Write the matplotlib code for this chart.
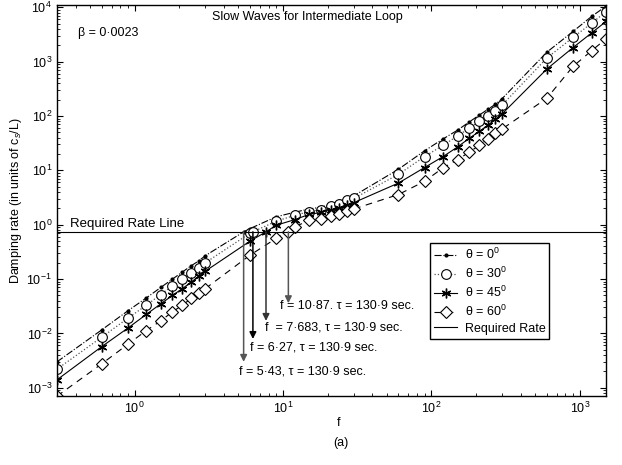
import matplotlib
matplotlib.use("Agg")
import matplotlib.pyplot as plt

plt.rcParams['font.family'] = ['Liberation Sans', 'DejaVu Sans']
plt.rcParams['mathtext.fontset'] = 'custom'
plt.rcParams['mathtext.rm'] = 'Liberation Sans'
plt.rcParams['mathtext.it'] = 'Liberation Sans:italic'
plt.rcParams['font.size'] = 9

# frequency grid (with each curve's crossing of the required rate)
f0 = [0.3, 0.6, 0.9, 1.2, 1.5, 1.8, 2.1, 2.4, 2.7, 3.0, 5.43, 6, 9, 12, 15, 18, 21, 24, 27, 30,
      60, 90, 120, 150, 180, 210, 240, 270, 300, 600, 900, 1200, 1500]
f30 = [0.3, 0.6, 0.9, 1.2, 1.5, 1.8, 2.1, 2.4, 2.7, 3.0, 6, 6.27, 9, 12, 15, 18, 21, 24, 27, 30,
       60, 90, 120, 150, 180, 210, 240, 270, 300, 600, 900, 1200, 1500]
f45 = [0.3, 0.6, 0.9, 1.2, 1.5, 1.8, 2.1, 2.4, 2.7, 3.0, 6, 7.683, 9, 12, 15, 18, 21, 24, 27, 30,
       60, 90, 120, 150, 180, 210, 240, 270, 300, 600, 900, 1200, 1500]
f60 = [0.3, 0.6, 0.9, 1.2, 1.5, 1.8, 2.1, 2.4, 2.7, 3.0, 6, 9, 10.87, 12, 15, 18, 21, 24, 27, 30,
       60, 90, 120, 150, 180, 210, 240, 270, 300, 600, 900, 1200, 1500]

rate0 = [3.0e-3, 0.0116, 0.026, 0.045, 0.07, 0.1, 0.135, 0.175, 0.215, 0.27, 0.74, 0.85, 1.4, 1.7,
         1.95, 2.1, 2.4, 2.7, 3.1, 3.4, 10.5, 23, 38, 55, 78, 104, 133, 165, 210, 1500, 3600, 6800, 10500]
rate30 = [2.2e-3, 8.5e-3, 0.019, 0.033, 0.052, 0.075, 0.1, 0.13, 0.16, 0.2, 0.7, 0.74, 1.16, 1.49,
          1.75, 1.9, 2.19, 2.45, 2.82, 3.05, 8.45, 18, 29, 43, 60, 80, 102, 126, 160, 1170, 2800, 5100, 8300]
rate45 = [1.4e-3, 5.7e-3, 0.0125, 0.0224, 0.035, 0.05, 0.067, 0.087, 0.113, 0.14, 0.5, 0.74, 0.98, 1.24,
          1.55, 1.68, 1.88, 2.07, 2.33, 2.55, 5.85, 11.3, 18, 27, 39, 52, 68, 87, 110, 735, 1820, 3380, 5500]
rate60 = [7e-4, 2.75e-3, 6.3e-3, 0.0113, 0.017, 0.025, 0.033, 0.044, 0.056, 0.067, 0.276, 0.56, 0.74, 0.91,
          1.21, 1.3, 1.43, 1.6, 1.79, 1.95, 3.6, 6.3, 11.2, 15.7, 21.7, 28.8, 38, 48, 58, 213, 820, 1590, 2630]

required_rate = 0.74
cross_f = [5.43, 6.27, 7.683, 10.87]
arrow_end = [3.0e-3, 7.9e-3, 0.017, 0.036]
arrow_color = ['#555555', 'black', '#333333', '#555555']
cross_labels = ['f = 5·43, τ = 130·9 sec.', 'f = 6·27, τ = 130·9 sec.',
                'f  = 7·683, τ = 130·9 sec.', 'f = 10·87. τ = 130·9 sec.']
label_pos = [(5.07, 1.96e-3), (6.0, 5.4e-3), (7.58, 0.0126), (9.55, 0.032)]

fig = plt.figure(figsize=(6.22, 4.65), dpi=100)
ax = fig.add_axes([0.0916, 0.148, 0.8826, 0.841])

ax.plot(f0, rate0, color='black', linestyle='-.', linewidth=0.8, marker='.', markersize=4,
        label=r'$\mathrm{\theta}$ = 0$^0$')
ax.plot(f30, rate30, color='#555555', linestyle=':', linewidth=0.9, marker='o', markersize=7,
        markerfacecolor='white', markeredgecolor='black', markeredgewidth=0.8,
        label=r'$\mathrm{\theta}$ = 30$^0$')
ax.plot(f45, rate45, color='black', linestyle='-', linewidth=0.8, marker=(6, 2, 0), markersize=7,
        markeredgewidth=1.0, label=r'$\mathrm{\theta}$ = 45$^0$')
ax.plot(f60, rate60, color='black', linestyle=(0, (6, 5)), linewidth=0.8, marker='D', markersize=6,
        markerfacecolor='white', markeredgecolor='black', markeredgewidth=0.8,
        label=r'$\mathrm{\theta}$ = 60$^0$')
ax.axhline(required_rate, color='black', linewidth=0.8, label='Required Rate')

for fc, ye, col, lab, pos in zip(cross_f, arrow_end, arrow_color, cross_labels, label_pos):
    ax.annotate('', xy=(fc, ye), xytext=(fc, required_rate),
                arrowprops=dict(arrowstyle='-|>', color=col, lw=1.1, mutation_scale=10,
                                shrinkA=0, shrinkB=0))
    ax.text(pos[0], pos[1], lab, fontsize=9, va='center', ha='left')

ax.set_xscale('log')
ax.set_yscale('log')
ax.set_xlim(0.3, 1500)
ax.set_ylim(7e-4, 1.1e4)
ax.tick_params(which='both', direction='in', top=True, right=True, labelsize=9)
ax.tick_params(which='major', length=4)
ax.tick_params(which='minor', length=2)
for s in ax.spines.values():
    s.set_linewidth(1.0)

ax.text(0.456, 0.969, 'Slow Waves for Intermediate Loop', transform=ax.transAxes,
        ha='center', va='center', fontsize=9)
ax.text(0.038, 0.928, 'β = 0·0023', transform=ax.transAxes, ha='left', va='center', fontsize=9)
ax.text(0.024, required_rate * 1.08, 'Required Rate Line', ha='left', va='bottom',
        transform=ax.get_yaxis_transform(), fontsize=9.5)

ax.set_ylabel('Damping rate (in units of c$_s$/L)', fontsize=9, labelpad=2)
fig.text(339 / 622, 1 - 423 / 465, 'f', ha='center', va='center', fontsize=9)
fig.text(341 / 622, 1 - 443 / 465, '(a)', ha='center', va='center', fontsize=9)

leg = ax.legend(loc='upper left', bbox_to_anchor=(0.668, 0.407), fontsize=9, fancybox=False,
                edgecolor='black', framealpha=1, handlelength=1.9, borderpad=0.3,
                labelspacing=0.3, handletextpad=0.6)
leg.get_frame().set_linewidth(1.0)

fig.savefig('out.png', dpi=100)
